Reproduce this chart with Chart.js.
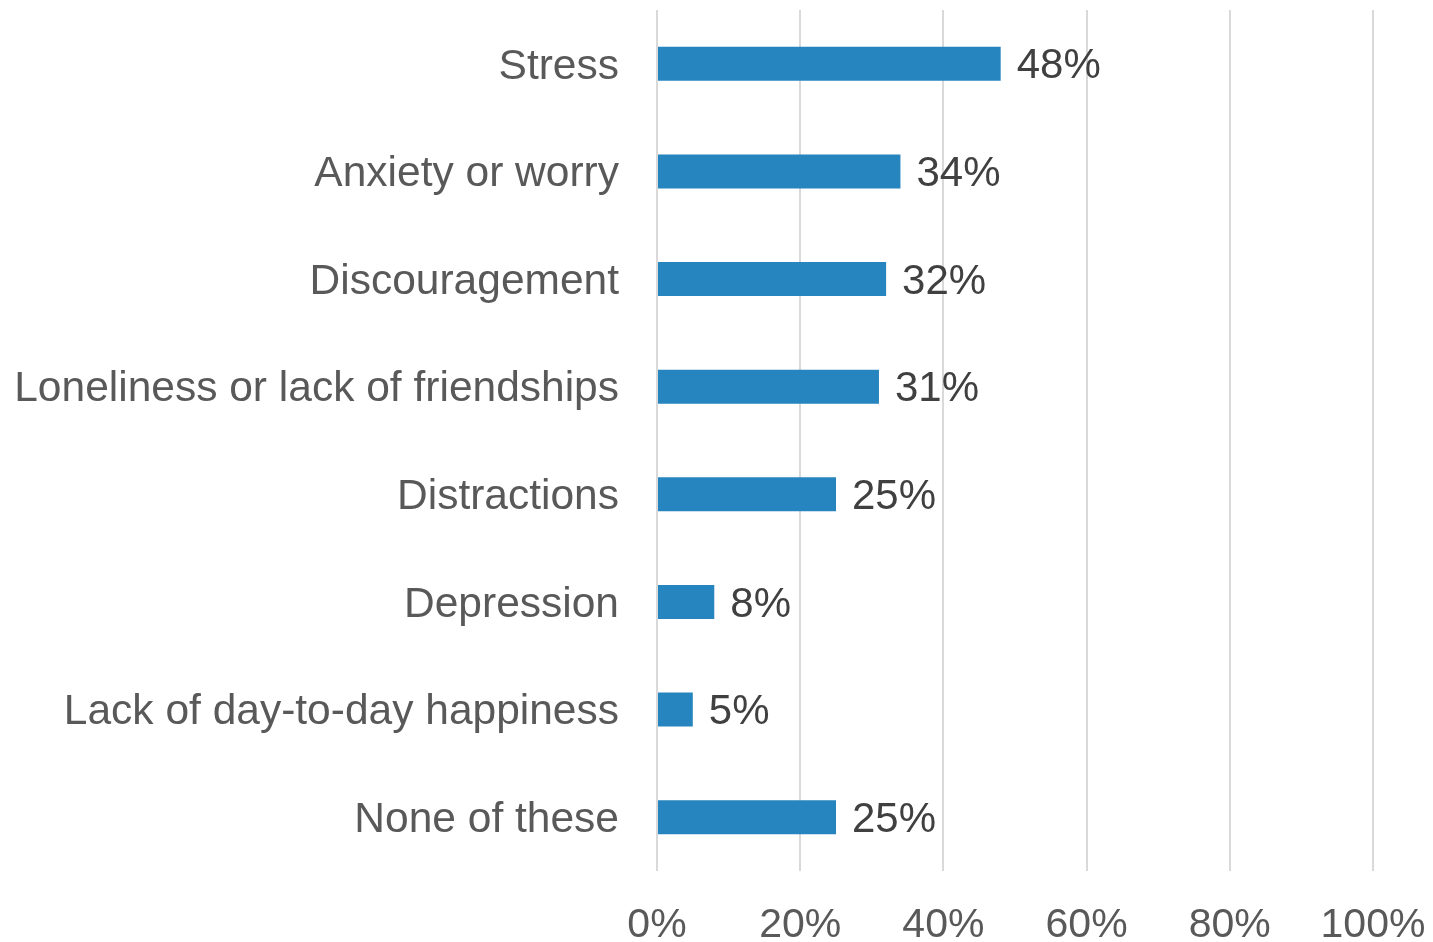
<!DOCTYPE html>
<html>
<head>
<meta charset="utf-8">
<script src="https://cdn.jsdelivr.net/npm/chart.js@4/dist/chart.umd.min.js"></script>
<style>
  html, body { margin: 0; padding: 0; background: #ffffff; }
  #wrap { width: 1433px; height: 942px; position: relative; }
</style>
</head>
<body>
<div id="wrap"><canvas id="c"></canvas></div>
<script>
const categories = [
  "Stress",
  "Anxiety or worry",
  "Discouragement",
  "Loneliness or lack of friendships",
  "Distractions",
  "Depression",
  "Lack of day-to-day happiness",
  "None of these"
];
const values = [48, 34, 32, 31, 25, 8, 5, 25];
const xTickValues = [0, 20, 40, 60, 80, 100];

const dataLabels = {
  id: 'dataLabels',
  afterDatasetsDraw(chart) {
    const ctx = chart.ctx;
    const meta = chart.getDatasetMeta(0);
    ctx.save();
    ctx.font = '42px "Liberation Sans", Arial, sans-serif';
    ctx.fillStyle = '#404040';
    ctx.textAlign = 'left';
    ctx.textBaseline = 'middle';
    meta.data.forEach((bar, i) => {
      ctx.fillText(values[i] + '%', bar.x + 16, bar.y + 3);
    });
    ctx.restore();
  }
};

new Chart(document.getElementById('c'), {
  type: 'bar',
  data: {
    labels: categories,
    datasets: [{
      data: values,
      backgroundColor: '#2684BF',
      borderWidth: 0,
      categoryPercentage: 1.0,
      barPercentage: 0.315
    }]
  },
  options: {
    indexAxis: 'y',
    responsive: true,
    maintainAspectRatio: false,
    animation: false,
    layout: { padding: { top: 10, right: 60, left: 0, bottom: 0 } },
    plugins: { legend: { display: false }, tooltip: { enabled: false } },
    scales: {
      x: {
        min: 0, max: 100,
        afterBuildTicks(scale) { scale.ticks = xTickValues.map(v => ({ value: v })); },
        afterFit(scale) {
          scale.height = 71;
          scale.paddingLeft = 0; scale.paddingRight = 0;
        },
        grid: { color: '#d9d9d9', lineWidth: 2, drawTicks: false },
        border: { display: false },
        ticks: {
          padding: 30,
          color: '#595959',
          maxRotation: 0,
          font: { family: '"Liberation Sans", Arial, sans-serif', size: 41 },
          callback: v => v + '%'
        }
      },
      y: {
        afterFit(scale) {
          scale.width = 657;
          scale.paddingTop = 0; scale.paddingBottom = 0;
        },
        grid: { display: false, drawTicks: false },
        border: { display: false },
        ticks: {
          padding: 38,
          labelOffset: 3,
          color: '#595959',
          font: { family: '"Liberation Sans", Arial, sans-serif', size: 42.5 }
        }
      }
    }
  },
  plugins: [dataLabels]
});
</script>
</body>
</html>
